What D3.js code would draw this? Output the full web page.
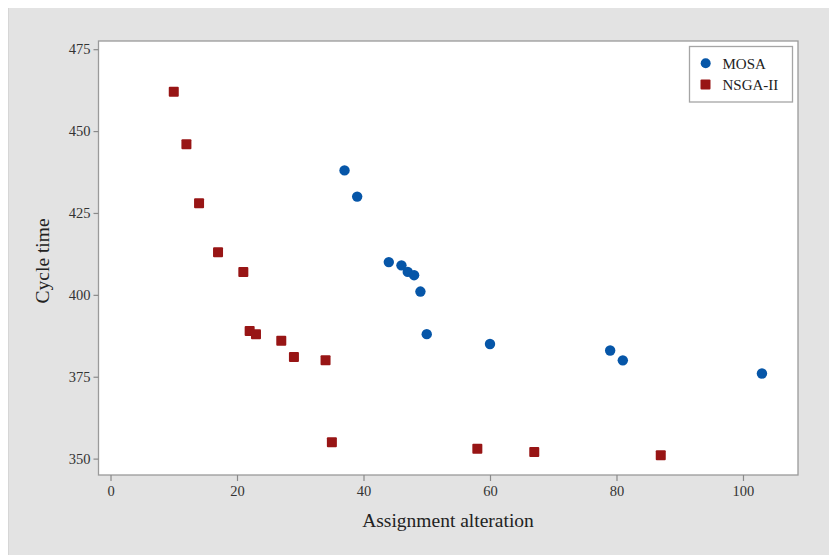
<!DOCTYPE html>
<html><head><meta charset="utf-8">
<script src="https://cdn.jsdelivr.net/npm/d3@7"></script>
<style>
html,body{margin:0;padding:0;background:#fff;}
svg{display:block;}
text{font-family:"Liberation Serif","Times New Roman",serif;}
</style></head>
<body>
<svg id="chart" width="829" height="555"></svg>
<script>
const mosaX = [37, 39, 44, 46, 47, 48, 49, 50, 60, 79, 81, 103];
const mosaY = [438, 430, 410, 409, 407, 406, 401, 388, 385, 383, 380, 376];
const nsgaX = [10, 12, 14, 17, 21, 22, 23, 27, 29, 34, 35, 58, 67, 87];
const nsgaY = [462, 446, 428, 413, 407, 389, 388, 386, 381, 380, 355, 353, 352, 351];
const xTicks = [0, 20, 40, 60, 80, 100];
const yTicks = [350, 375, 400, 425, 450, 475];
const seriesNames = ["MOSA", "NSGA-II"];
const xTitle = "Assignment alteration";
const yTitle = "Cycle time";

const svg = d3.select("#chart");
const W = 829, H = 555;
const L = 98.5, T = 41, R = 798, B = 475;

svg.append("rect").attr("x", 8).attr("y", 8).attr("width", W - 8).attr("height", H - 8)
  .attr("fill", "#e3e3e3");
svg.append("line").attr("x1", 8.5).attr("x2", 8.5).attr("y1", 8).attr("y2", H)
  .attr("stroke", "#d6d6d6").attr("stroke-width", 1);

const x = d3.scaleLinear().domain([-1.9, 108.7]).range([L, R]);
const y = d3.scaleLinear().domain([345.0, 477.5]).range([B, T]);

svg.append("rect").attr("x", L).attr("y", T).attr("width", R - L).attr("height", B - T)
  .attr("fill", "#fff").attr("stroke", "#9a9a9a").attr("stroke-width", 1.3);

const xAxis = svg.append("g").attr("transform", `translate(0,${B})`)
  .call(d3.axisBottom(x).tickValues(xTicks).tickSize(6).tickPadding(5).tickFormat(d3.format("d")));
const yAxis = svg.append("g").attr("transform", `translate(${L},0)`)
  .call(d3.axisLeft(y).tickValues(yTicks).tickSize(5).tickPadding(3).tickFormat(d3.format("d")));
[xAxis, yAxis].forEach(g => {
  g.attr("font-family", null);
  g.select(".domain").remove();
  g.selectAll(".tick line").attr("stroke", "#8a8a8a").attr("stroke-width", 1.2);
  g.selectAll(".tick text").attr("fill", "#333").style("font-size", "14.5px")
    .style("font-family", "'Liberation Serif', serif");
});

svg.append("text").attr("x", 448).attr("y", 527)
  .attr("text-anchor", "middle").attr("fill", "#222").style("font-size", "19.5px").text(xTitle);
svg.append("text").attr("transform", `translate(49,${(y(350) + y(475)) / 2 + 7}) rotate(-90)`)
  .attr("text-anchor", "middle").attr("fill", "#222").style("font-size", "19.5px").text(yTitle);

const blue = "#0656a8", red = "#981515";
const mosa = mosaX.map((d, i) => ({x: d, y: mosaY[i]}));
const nsga = nsgaX.map((d, i) => ({x: d, y: nsgaY[i]}));

svg.append("g").selectAll("rect").data(nsga).join("rect")
  .attr("x", d => x(d.x) - 5).attr("y", d => y(d.y) - 5)
  .attr("width", 10).attr("height", 10).attr("rx", 1).attr("fill", red);
svg.append("g").selectAll("circle").data(mosa).join("circle")
  .attr("cx", d => x(d.x)).attr("cy", d => y(d.y)).attr("r", 5.2).attr("fill", blue);

// legend
const lg = svg.append("g");
lg.append("rect").attr("x", 689.5).attr("y", 46.5).attr("width", 103).attr("height", 55.5)
  .attr("fill", "#fff").attr("stroke", "#a5a5a5").attr("stroke-width", 1.3);
lg.append("circle").attr("cx", 705.7).attr("cy", 63.3).attr("r", 5).attr("fill", blue);
lg.append("rect").attr("x", 700.5).attr("y", 79.5).attr("width", 10).attr("height", 10).attr("rx", 1).attr("fill", red);
lg.selectAll("text.lab").data(seriesNames).join("text").attr("class", "lab")
  .attr("x", 722.5).attr("y", (d, i) => 68.5 + i * 21)
  .attr("fill", "#222").style("font-size", "15px").text(d => d);
</script>
</body></html>
